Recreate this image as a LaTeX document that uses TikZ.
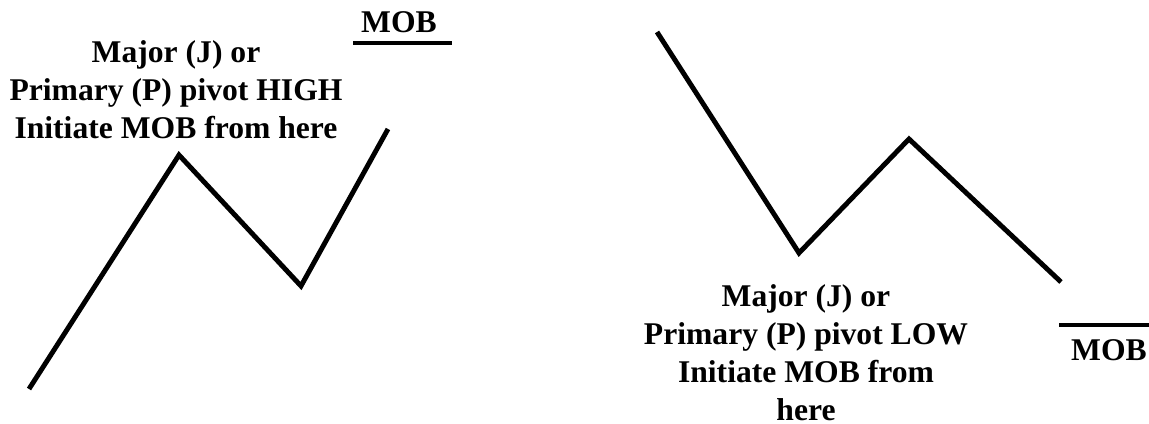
\documentclass[tikz,border=0pt]{standalone}
\usepackage{fontspec}
\setmainfont{Liberation Serif}
\usetikzlibrary{positioning}

\begin{document}
\begin{tikzpicture}[x=0.02cm,y=-0.02cm,
  swing/.style={line width=2.8pt,line join=miter},
  mobbar/.style={line width=2.8pt},
  lbl/.style={font=\bfseries\fontsize{18}{21.5}\selectfont,align=center,
              inner sep=0pt},
]
  \useasboundingbox (0,0) rectangle (1149,423);

  % Pivot high
  \coordinate (h0) at (29,389);
  \coordinate (h1) at (179,155);
  \coordinate (h2) at (301,286);
  \coordinate (h3) at (388,129);
  \draw[swing] (h0) -- (h1) -- (h2) -- (h3);

  \node[lbl,anchor=base] (hightxt) at (176,138)
    {Major (J) or\\Primary (P) pivot HIGH\\Initiate MOB from here};

  \coordinate (mh0) at (353,43);
  \coordinate (mh1) at (452,43);
  \draw[mobbar] (mh0) -- (mh1);
  \node[lbl,anchor=base] (mobhigh) at (399,32) {MOB};

  % Pivot low
  \coordinate (l0) at (657,32);
  \coordinate (l1) at (799,253);
  \coordinate (l2) at (909,139);
  \coordinate (l3) at (1061,282);
  \draw[swing] (l0) -- (l1) -- (l2) -- (l3);

  \node[lbl,anchor=base] (lowtxt) at (806,420)
    {Major (J) or\\Primary (P) pivot LOW\\Initiate MOB from\\here};

  \coordinate (ml0) at (1059,325);
  \coordinate (ml1) at (1149,325);
  \draw[mobbar] (ml0) -- (ml1);
  \node[lbl,anchor=base] (moblow) at (1109,360) {MOB};
\end{tikzpicture}
\end{document}
